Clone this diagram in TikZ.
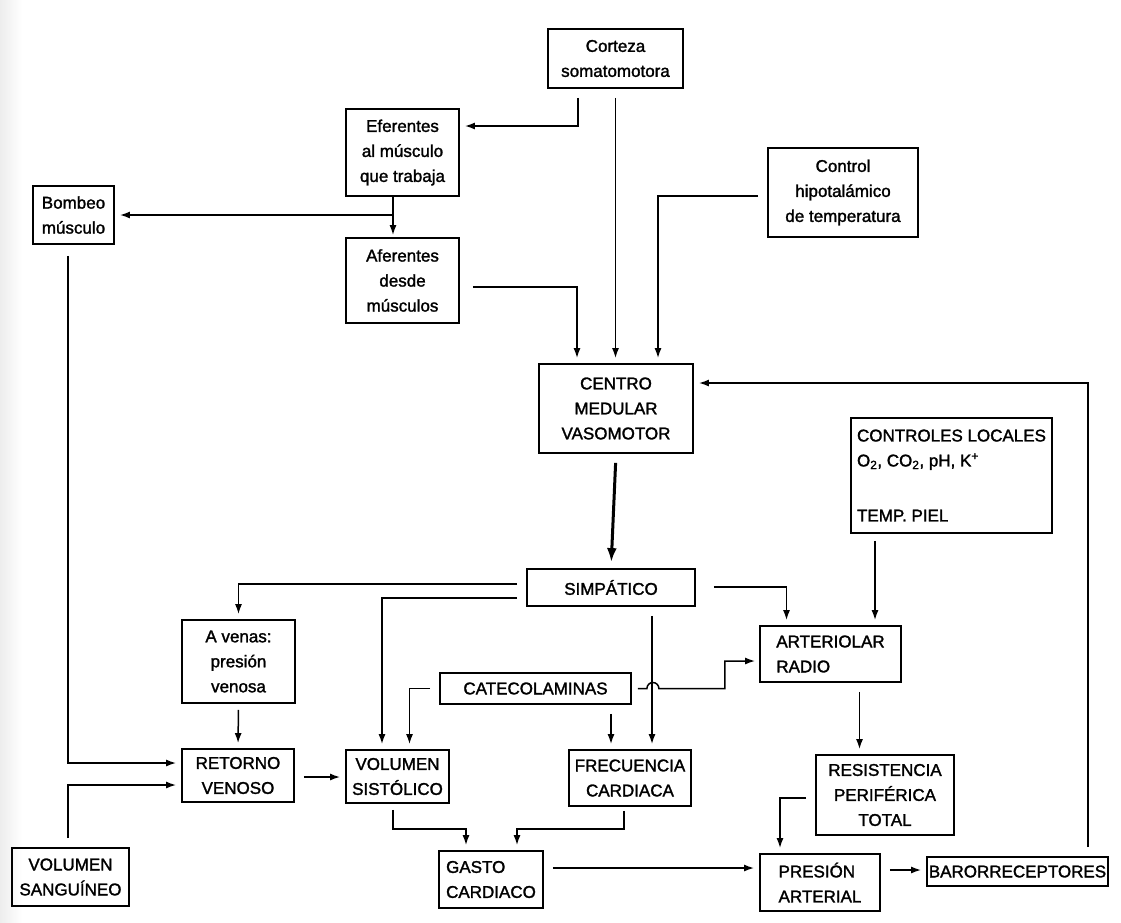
\documentclass[tikz,border=0pt]{standalone}
\usepackage{fontspec}
\setmainfont{Liberation Sans}[FakeBold=1.6]
\usetikzlibrary{arrows.meta}

\tikzset{
  box/.style={draw, line width=1.8pt, align=center, inner sep=2pt, font=\fontsize{17}{25}\selectfont},
  link/.style={->, line width=1.5pt, shorten <=9pt, shorten >=5pt},
}

\begin{document}
\begin{tikzpicture}[x=1pt, y=-1pt, >={Latex[length=10pt,width=7pt]}]
        \useasboundingbox (0,0) rectangle (1121,922);
        \shade[left color=black!7, right color=white] (0,0) rectangle (22,922);
        % boxes
        \node[box, minimum width=135, minimum height=59] (cort) at (615.5,58.5) {Corteza\\somatomotora};
        \node[box, minimum width=113, minimum height=87] (efer) at (402.5,152.5) {Eferentes\\al m\'usculo\\que trabaja};
        \node[box, minimum width=81, minimum height=58] (bomb) at (73.5,215) {Bombeo\\m\'usculo};
        \node[box, minimum width=113, minimum height=85] (afer) at (402.5,280.5) {Aferentes\\desde\\m\'usculos};
        \node[box, minimum width=150, minimum height=89] (hipo) at (843,192.5) {Control\\hipotal\'amico\\de temperatura};
        \node[box, minimum width=154, minimum height=89] (cent) at (616,408.5) {CENTRO\\MEDULAR\\VASOMOTOR};
        \node[box, align=left, minimum width=201, minimum height=115] (ctrl) at (951.5,475.5) {CONTROLES LOCALES\\O\textsubscript{2}, CO\textsubscript{2}, pH, K\textsuperscript{+}\\[30pt]TEMP. PIEL};
        \node[box, minimum width=168, minimum height=37] (simp) at (611,587.5) {SIMP\'ATICO};
        \node[box, minimum width=113, minimum height=83] (venas) at (238.5,661.5) {A venas:\\presi\'on\\venosa};
        \node[box, align=left, minimum width=141, minimum height=56] (arter) at (830.5,654) {ARTERIOLAR\\RADIO};
        \node[box, minimum width=191, minimum height=31] (cate) at (535.5,688.5) {CATECOLAMINAS};
        \node[box, minimum width=112, minimum height=53] (ret) at (238,775.5) {RETORNO\\VENOSO};
        \node[box, minimum width=103, minimum height=53] (vsis) at (397.5,776.5) {VOLUMEN\\SIST\'OLICO};
        \node[box, minimum width=122, minimum height=56] (frec) at (630,778) {FRECUENCIA\\CARDIACA};
        \node[box, minimum width=138, minimum height=80] (resis) at (885,795) {RESISTENCIA\\PERIF\'ERICA\\TOTAL};
        \node[box, minimum width=117, minimum height=58] (vsang) at (70.5,877) {VOLUMEN\\SANGU\'INEO};
        \node[box, align=left, minimum width=104, minimum height=57] (gasto) at (491,879.5) {GASTO\\CARDIACO};
        \node[box, align=left, minimum width=120, minimum height=57] (pres) at (820,882.5) {PRESI\'ON\\ARTERIAL};
        \node[box, inner sep=1pt, minimum width=181, minimum height=29] (baro) at (1017.5,871.5) {BARORRECEPTORES};
        % helper points
        \coordinate (e1) at ([xshift=-9.5pt]efer.south);
        \coordinate (c1) at ([xshift=-76.5pt]ctrl.south);
        \coordinate (s1) at ([xshift=41pt]simp.south);
        \coordinate (k1) at ([xshift=75.5pt]cate.south);
        \coordinate (a1) at ([xshift=29pt]arter.south);
        \coordinate (r1) at ([yshift=-1.5pt]ret.east);
        \coordinate (g1) at ([yshift=11.5pt]gasto.east);
        \coordinate (p1) at ([yshift=12.5pt]pres.east);
        % connectors
        \draw[link] ([xshift=-37.5pt]cort.south) |- ([yshift=26.5pt]efer.east);
        \draw[link] (cort.south) -- (cort.south |- cent.north);
        \draw[->, line width=1.5pt, shorten >=2pt] (e1) -- (e1 |- afer.north);
        \draw[->, line width=1.5pt, shorten >=5pt] (e1 |- bomb.east) -- (bomb.east);
        \draw[link, shorten <=13pt] ([yshift=-6.5pt]afer.east) -| ([xshift=-39pt]cent.north);
        \draw[link] ([yshift=-3.5pt]hipo.west) -| ([xshift=42pt]cent.north);
        \draw[link, shorten <=11pt] ([xshift=-5.5pt]bomb.south) |- ([yshift=12.5pt]ret.west);
        \draw[link] ([xshift=-2.5pt]vsang.north) |- ([yshift=-9.5pt]ret.west);
        \draw[->, line width=3pt, >={Latex[length=14pt,width=10pt]}, shorten <=9pt, shorten >=6pt] (cent.south) -- (simp.north);
        \draw[link] ([xshift=70.5pt]baro.north) |- ([yshift=25.5pt]cent.east);
        \draw[link, shorten <=7pt] (c1) -- (c1 |- arter.north);
        \draw[link] ([yshift=3.5pt]simp.west) -| (venas.north);
        \draw[link] ([yshift=-10.5pt]simp.west) -| ([xshift=-15.5pt]vsis.north);
        \draw[link, shorten <=18pt] ([yshift=0.5pt]simp.east) -| ([xshift=-44pt]arter.north);
        \draw[link] (s1) -- (s1 |- frec.north);
        \draw[link] (cate.west) -| ([xshift=12pt]vsis.north);
        \draw[link] (k1) -- (k1 |- frec.north);
        \draw[->, line width=1.5pt, shorten >=4pt] ([xshift=6pt]cate.east) -- ([xshift=15pt]cate.east)
            arc[start angle=180, end angle=360, radius=6] -- ([xshift=93pt]cate.east) |- ([yshift=-7pt]arter.west);
        \draw[link, shorten <=6pt] (venas.south) -- (ret.north);
        \draw[link] (r1) -- (r1 -| vsis.west);
        \draw[link, shorten <=6pt] ([xshift=-4.5pt]vsis.south) -- ++(0,25) -| ([xshift=-25pt]gasto.north);
        \draw[link, shorten <=4pt] ([xshift=-6pt]frec.south) -- ++(0,22) -| ([xshift=26pt]gasto.north);
        \draw[link] (a1) -- (a1 |- resis.north);
        \draw[link] ([yshift=-3pt]resis.west) -| ([xshift=-40pt]pres.north);
        \draw[link] (g1) -- (g1 -| pres.west);
        \draw[link] (p1) -- (p1 -| baro.west);
\end{tikzpicture}
\end{document}
